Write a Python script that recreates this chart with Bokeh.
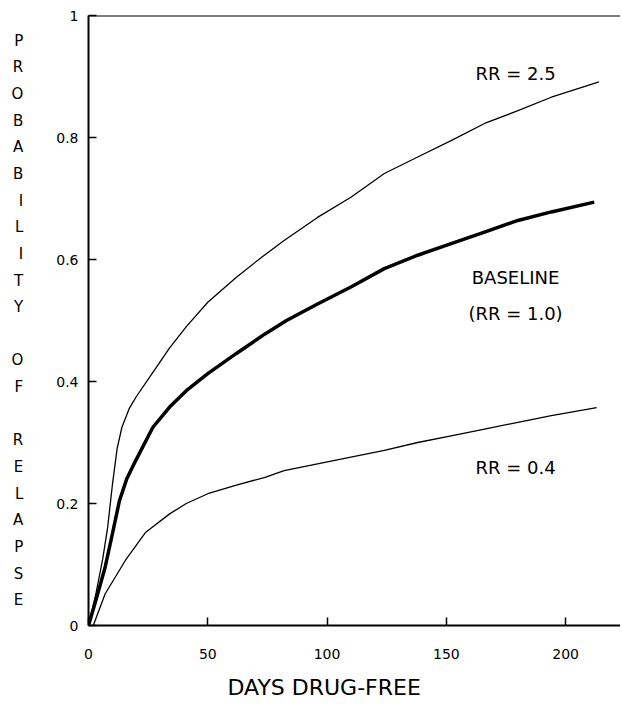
from bokeh.plotting import figure
from bokeh.models import Span, Title, FixedTicker, ColumnDataSource
from bokeh.core.properties import value
from bokeh.embed import file_html
from bokeh.resources import INLINE

# --- data ---
days_high = [0, 3, 6, 8, 10, 12, 14, 17, 20, 27, 34, 41, 50, 62, 73, 82, 96, 110, 124, 138, 152, 166, 180, 194, 214]
rr_high = [0, 0.05, 0.11, 0.16, 0.23, 0.29, 0.325, 0.355, 0.375, 0.415, 0.455, 0.49, 0.53, 0.571, 0.605,
           0.631, 0.669, 0.702, 0.741, 0.768, 0.795, 0.823, 0.844, 0.866, 0.891]

days_base = [0, 3, 7, 10, 13, 16, 20, 27, 34, 41, 50, 62, 74, 83, 96, 110, 124, 138, 152, 166, 180, 194, 212]
rr_base = [0, 0.04, 0.096, 0.15, 0.205, 0.24, 0.272, 0.325, 0.358, 0.385, 0.413, 0.446, 0.478, 0.5,
           0.527, 0.555, 0.585, 0.607, 0.626, 0.645, 0.664, 0.678, 0.694]

days_low = [2, 7, 15.5, 24, 34, 41, 50, 62, 74, 82, 96, 110, 124, 138, 152, 166, 180, 194, 213]
rr_low = [0, 0.052, 0.107, 0.153, 0.183, 0.2, 0.216, 0.23, 0.243, 0.254, 0.265, 0.276, 0.287, 0.300,
          0.311, 0.322, 0.333, 0.344, 0.357]

y_ticks = [0, 0.2, 0.4, 0.6, 0.8, 1.0]
y_tick_labels = ["0", "0.2", "0.4", "0.6", "0.8", "1"]
x_ticks = [0, 50, 100, 150, 200]

note_texts = ["RR = 2.5", "BASELINE", "(RR = 1.0)", "RR = 0.4"]
note_x = [179, 179, 179, 179]
note_y = [0.905, 0.57, 0.511, 0.259]

FONT = "DejaVu Sans"

p = figure(width=620, height=711, output_backend="svg", toolbar_location=None,
           x_range=(0, 223), y_range=(0, 1.0),
           min_border_left=88, min_border_right=0, min_border_top=15, min_border_bottom=86)
p.outline_line_color = None
p.grid.visible = False
p.background_fill_color = "white"

# curves
p.line(days_high, rr_high, line_color="black", line_width=1.3)
p.line(days_base, rr_base, line_color="black", line_width=3.5)
p.line(days_low, rr_low, line_color="black", line_width=1.3)

# top border line
p.add_layout(Span(location=1.0, dimension="width", line_color="black", line_width=2))

# axes
for ax in (p.xaxis[0], p.yaxis[0]):
    ax.axis_line_color = "black"
    ax.axis_line_width = 2
    ax.major_tick_in = 8
    ax.major_tick_out = 0
    ax.major_tick_line_width = 1.5
    ax.minor_tick_line_color = None
    ax.major_label_text_font = FONT
    ax.major_label_text_font_size = "14px"
    ax.major_label_text_color = "black"

p.yaxis.ticker = FixedTicker(ticks=y_ticks)
p.yaxis.major_label_overrides = {t: l for t, l in zip(y_ticks, y_tick_labels)}
p.yaxis.major_label_standoff = 10
p.xaxis.ticker = FixedTicker(ticks=x_ticks)
p.xaxis.major_label_standoff = 23

ylab = "\n".join(list("PROBABILITY")) + "\n\n" + "\n".join(list("OF")) + "\n\n" + "\n".join(list("RELAPSE"))
p.yaxis.axis_label = ylab
p.yaxis.axis_label_orientation = "horizontal"
p.yaxis.axis_label_text_font = FONT
p.yaxis.axis_label_text_font_style = "normal"
p.yaxis.axis_label_text_font_size = "15px"
p.yaxis.axis_label_text_color = "black"
p.yaxis.axis_label_text_line_height = 1.48
p.yaxis.axis_label_standoff = 30

p.add_layout(Title(text="DAYS DRUG-FREE", align="left", offset=139, text_font=FONT,
                   text_font_size="22px", text_font_style="normal", text_color="black",
                   standoff=23), "below")

src = ColumnDataSource(dict(x=note_x, y=note_y, t=note_texts))
p.text(x="x", y="y", text="t", source=src, text_align="center", text_baseline="middle",
       text_font=value(FONT), text_font_size="18px", text_color="black")

open("out.html", "w").write(file_html(p, INLINE))
